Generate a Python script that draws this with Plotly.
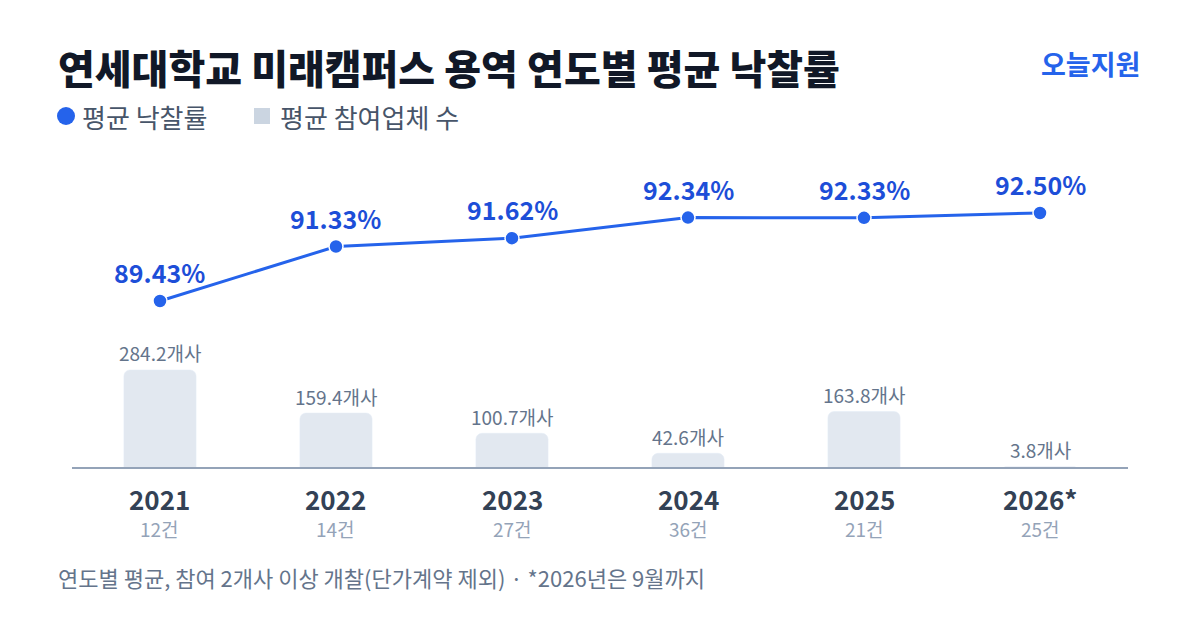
import plotly.graph_objects as go

# chart data
years = ["2021", "2022", "2023", "2024", "2025", "2026*"]
bid_counts = ["12건", "14건", "27건", "36건", "21건", "25건"]
win_rate = [89.43, 91.33, 91.62, 92.34, 92.33, 92.50]
bidders = [284.2, 159.4, 100.7, 42.6, 163.8, 3.8]

FONT = "Noto Sans CJK KR"
BLUE = "#2563eb"
BAR = "#e2e8f0"

fig = go.Figure()

# bars: average number of bidders
fig.add_trace(go.Bar(
    x=years, y=bidders,
    marker=dict(color=BAR, cornerradius=6),
    width=0.41,
    hoverinfo="skip",
    showlegend=False,
))

# line: average winning rate
fig.add_trace(go.Scatter(
    x=years, y=win_rate, yaxis="y2",
    mode="lines+markers",
    line=dict(color=BLUE, width=3),
    marker=dict(size=14, color=BLUE, line=dict(color="white", width=1.5)),
    showlegend=False,
))

annotations = []
# category index used as x, so "2021" is not read as a number
for i, v in enumerate(win_rate):
    annotations.append(dict(
        x=i, y=v, yref="y2", text="%.2f%%" % v, showarrow=False,
        yanchor="middle", yshift=29,
        font=dict(family=FONT, size=25, color="#1d4ed8", weight="bold"),
    ))
for i, v in enumerate(bidders):
    annotations.append(dict(
        x=i, y=v, yref="y", text="%.1f개사" % v, showarrow=False,
        yanchor="middle", yshift=17,
        font=dict(family=FONT, size=19, color="#64748b"),
    ))
for i, (yr, c) in enumerate(zip(years, bid_counts)):
    annotations.append(dict(
        x=i, y=0, yref="y", text=yr, showarrow=False,
        yanchor="middle", yshift=-31,
        font=dict(family=FONT, size=26, color="#334155", weight="bold"),
    ))
    annotations.append(dict(
        x=i, y=0, yref="y", text=c, showarrow=False,
        yanchor="middle", yshift=-61,
        font=dict(family=FONT, size=19, color="#94a3b8"),
    ))

# title, brand, legend, footer
annotations += [
    dict(x=56 / 1200, y=1 - 67 / 630, xref="paper", yref="paper",
         xanchor="left", yanchor="middle", showarrow=False,
         text="연세대학교 미래캠퍼스 용역 연도별 평균 낙찰률",
         font=dict(family=FONT, size=40, color="#111827", weight=900)),
    dict(x=1142 / 1200, y=1 - 64 / 630, xref="paper", yref="paper",
         xanchor="right", yanchor="middle", showarrow=False,
         text="오늘지원",
         font=dict(family=FONT, size=27, color=BLUE, weight="bold")),
    dict(x=80 / 1200, y=1 - 116 / 630, xref="paper", yref="paper",
         xanchor="left", yanchor="middle", showarrow=False,
         text="평균 낙찰률",
         font=dict(family=FONT, size=26, color="#475569")),
    dict(x=278 / 1200, y=1 - 116 / 630, xref="paper", yref="paper",
         xanchor="left", yanchor="middle", showarrow=False,
         text="평균 참여업체 수",
         font=dict(family=FONT, size=26, color="#475569")),
    dict(x=56 / 1200, y=1 - 577 / 630, xref="paper", yref="paper",
         xanchor="left", yanchor="middle", showarrow=False,
         text="연도별 평균, 참여 2개사 이상 개찰(단가계약 제외) · *2026년은 9월까지",
         font=dict(family=FONT, size=22, color="#64748b")),
]

shapes = [
    # baseline
    dict(type="line", xref="x", yref="y", x0=-0.5, x1=5.5, y0=0, y1=0,
         line=dict(color="#94a3b8", width=2)),
    # legend marks
    dict(type="circle", xref="paper", yref="paper",
         x0=57 / 1200, x1=75 / 1200, y0=1 - 125 / 630, y1=1 - 107 / 630,
         fillcolor=BLUE, line=dict(width=0)),
    dict(type="rect", xref="paper", yref="paper",
         x0=254 / 1200, x1=270 / 1200, y0=1 - 124 / 630, y1=1 - 108 / 630,
         fillcolor="#cbd5e1", line=dict(width=0)),
]

fig.update_layout(
    width=1200, height=630,
    margin=dict(l=0, r=0, t=0, b=0),
    paper_bgcolor="white", plot_bgcolor="white",
    font=dict(family=FONT),
    xaxis=dict(type="category", categoryarray=years, range=[-0.909, 5.909],
               showgrid=False, zeroline=False, showticklabels=False, showline=False),
    yaxis=dict(range=[-469.6, 1356.5], showgrid=False, zeroline=False,
               showticklabels=False, visible=False),
    yaxis2=dict(range=[77.95, 99.93], overlaying="y", showgrid=False,
                zeroline=False, showticklabels=False, visible=False),
    annotations=annotations,
    shapes=shapes,
    hovermode=False,
)

# drop the page's default body margin so the figure sits at (0, 0)
fig.write_html("out.html", config={"displayModeBar": False},
               post_script="document.body.style.margin='0';")
